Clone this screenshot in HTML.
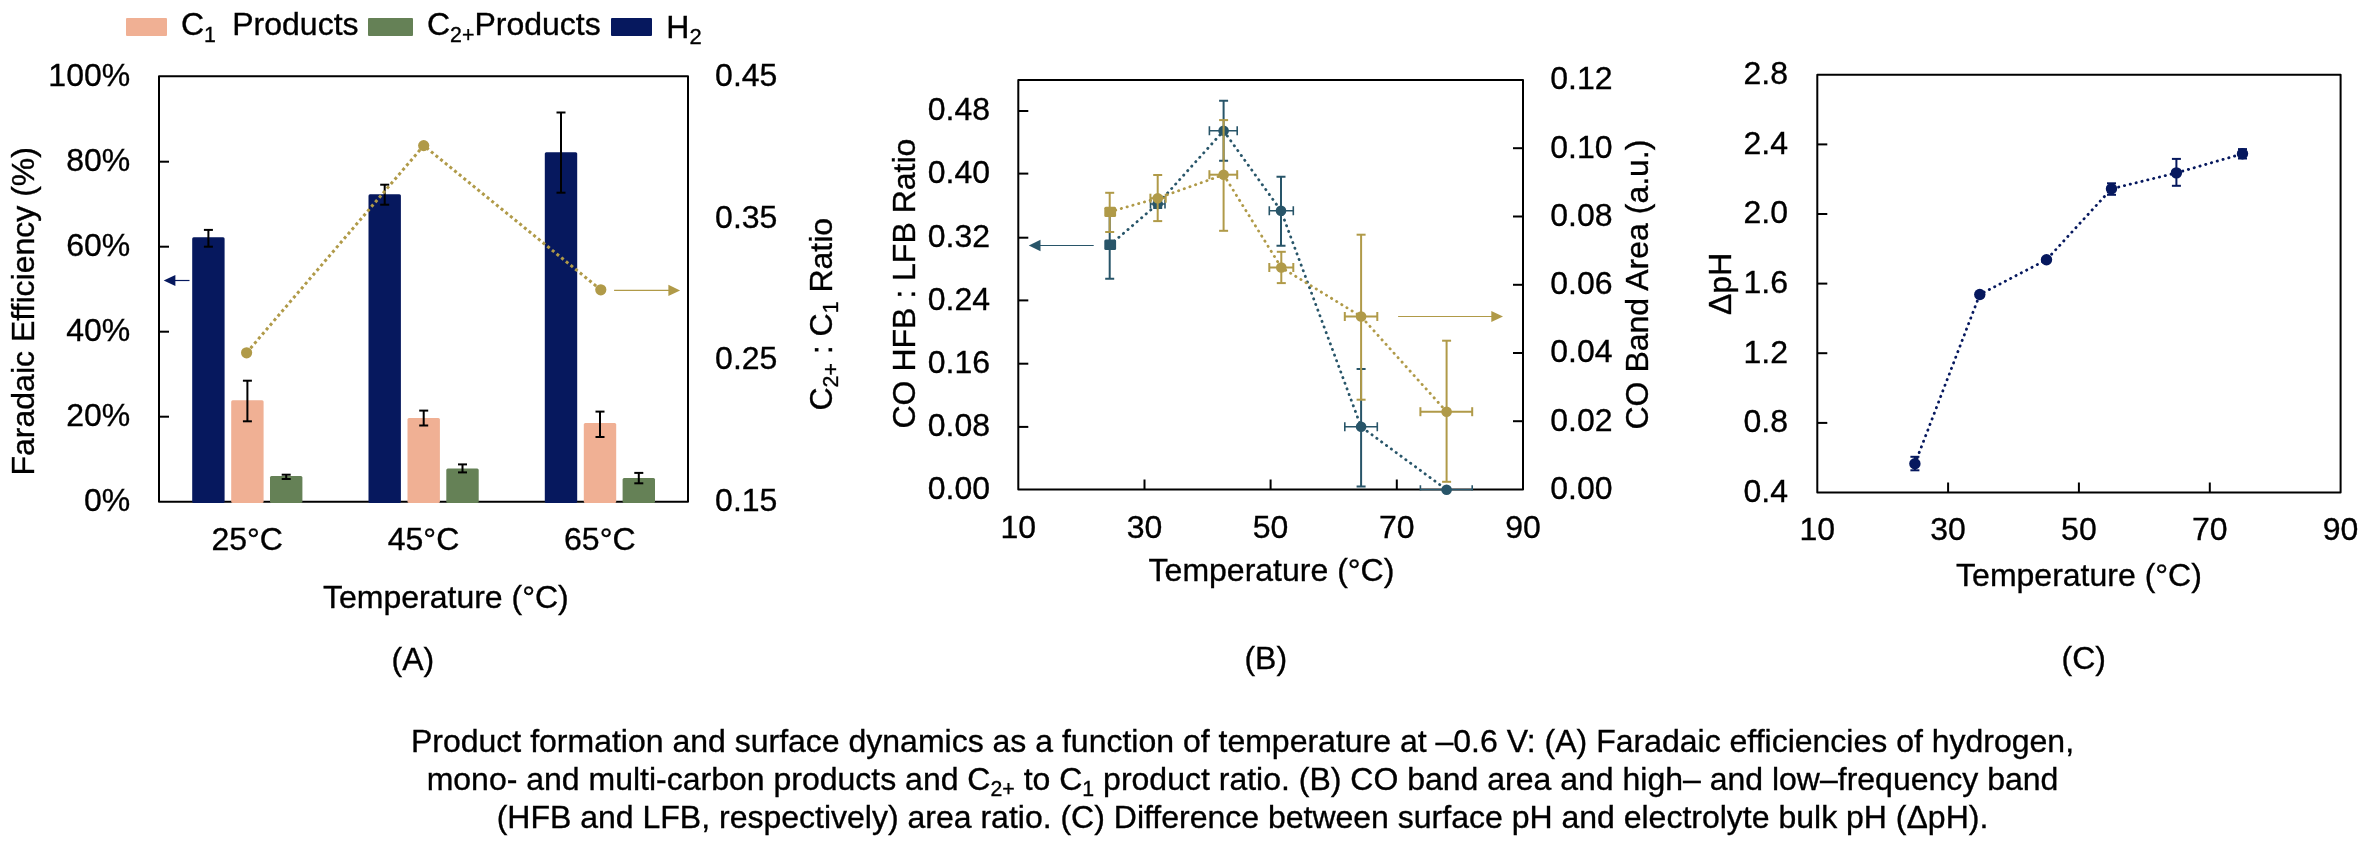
<!DOCTYPE html>
<html><head><meta charset="utf-8"><title>Figure</title>
<style>
html,body{margin:0;padding:0;background:#fff;}
body{width:2364px;height:842px;overflow:hidden;}
svg{display:block;font-family:"Liberation Sans",Arial,sans-serif;fill:#000;will-change:transform;}
text{stroke:#000;stroke-width:0.35px;}
</style></head>
<body>
<svg width="2364" height="842" viewBox="0 0 2364 842">
<rect width="2364" height="842" fill="#fff"/>
<rect x="126.0" y="18.0" width="41.0" height="18.0" fill="#f0b094" rx="1"/>
<text x="181" y="35.4" font-size="32">C<tspan font-size="21.3" dy="6.5">1</tspan><tspan dy="-6.5" dx="-1.5" xml:space="preserve">  Products</tspan></text>
<rect x="368.0" y="18.0" width="45.0" height="18.0" fill="#658156" rx="1"/>
<text x="427" y="35.2" font-size="32">C<tspan font-size="21.3" dy="6.5">2+</tspan><tspan dy="-6.5">Products</tspan></text>
<rect x="611.0" y="18.0" width="41.0" height="18.0" fill="#06185e" rx="1"/>
<text x="666.3" y="37.6" font-size="32">H<tspan font-size="22" dy="6">2</tspan></text>
<rect x="159" y="76.2" width="529" height="425.5" fill="none" stroke="#000" stroke-width="2" stroke-linejoin="round"/>
<rect x="192.2" y="237.3" width="32.4" height="265.7" fill="#06185e" rx="1.5"/>
<rect x="231.2" y="400.3" width="32.4" height="102.7" fill="#f0b094" rx="1.5"/>
<rect x="270.0" y="476.1" width="32.4" height="26.9" fill="#658156" rx="1.5"/>
<rect x="368.5" y="194.2" width="32.4" height="308.8" fill="#06185e" rx="1.5"/>
<rect x="407.5" y="418.0" width="32.4" height="85.0" fill="#f0b094" rx="1.5"/>
<rect x="446.3" y="468.4" width="32.4" height="34.6" fill="#658156" rx="1.5"/>
<rect x="544.8" y="152.3" width="32.4" height="350.7" fill="#06185e" rx="1.5"/>
<rect x="583.8" y="423.0" width="32.4" height="80.0" fill="#f0b094" rx="1.5"/>
<rect x="622.6" y="477.9" width="32.4" height="25.1" fill="#658156" rx="1.5"/>
<line x1="208.4" y1="229.9" x2="208.4" y2="246.7" stroke="#000" stroke-width="2" />
<line x1="203.9" y1="229.9" x2="212.9" y2="229.9" stroke="#000" stroke-width="2" />
<line x1="203.9" y1="246.7" x2="212.9" y2="246.7" stroke="#000" stroke-width="2" />
<line x1="247.4" y1="380.7" x2="247.4" y2="421.3" stroke="#000" stroke-width="2" />
<line x1="242.9" y1="380.7" x2="251.9" y2="380.7" stroke="#000" stroke-width="2" />
<line x1="242.9" y1="421.3" x2="251.9" y2="421.3" stroke="#000" stroke-width="2" />
<line x1="286.2" y1="474.7" x2="286.2" y2="479.0" stroke="#000" stroke-width="2" />
<line x1="281.7" y1="474.7" x2="290.7" y2="474.7" stroke="#000" stroke-width="2" />
<line x1="281.7" y1="479.0" x2="290.7" y2="479.0" stroke="#000" stroke-width="2" />
<line x1="384.7" y1="184.7" x2="384.7" y2="204.7" stroke="#000" stroke-width="2" />
<line x1="380.2" y1="184.7" x2="389.2" y2="184.7" stroke="#000" stroke-width="2" />
<line x1="380.2" y1="204.7" x2="389.2" y2="204.7" stroke="#000" stroke-width="2" />
<line x1="423.7" y1="410.6" x2="423.7" y2="425.5" stroke="#000" stroke-width="2" />
<line x1="419.2" y1="410.6" x2="428.2" y2="410.6" stroke="#000" stroke-width="2" />
<line x1="419.2" y1="425.5" x2="428.2" y2="425.5" stroke="#000" stroke-width="2" />
<line x1="462.5" y1="464.4" x2="462.5" y2="472.4" stroke="#000" stroke-width="2" />
<line x1="458.0" y1="464.4" x2="467.0" y2="464.4" stroke="#000" stroke-width="2" />
<line x1="458.0" y1="472.4" x2="467.0" y2="472.4" stroke="#000" stroke-width="2" />
<line x1="561.0" y1="112.5" x2="561.0" y2="192.7" stroke="#000" stroke-width="2" />
<line x1="556.5" y1="112.5" x2="565.5" y2="112.5" stroke="#000" stroke-width="2" />
<line x1="556.5" y1="192.7" x2="565.5" y2="192.7" stroke="#000" stroke-width="2" />
<line x1="600.0" y1="411.6" x2="600.0" y2="437.0" stroke="#000" stroke-width="2" />
<line x1="595.5" y1="411.6" x2="604.5" y2="411.6" stroke="#000" stroke-width="2" />
<line x1="595.5" y1="437.0" x2="604.5" y2="437.0" stroke="#000" stroke-width="2" />
<line x1="638.8" y1="472.9" x2="638.8" y2="483.3" stroke="#000" stroke-width="2" />
<line x1="634.3" y1="472.9" x2="643.3" y2="472.9" stroke="#000" stroke-width="2" />
<line x1="634.3" y1="483.3" x2="643.3" y2="483.3" stroke="#000" stroke-width="2" />
<polyline points="246.6,352.8 423.7,145.6 600.8,289.8" fill="none" stroke="#b09a48" stroke-width="3" stroke-dasharray="3 3" stroke-linecap="butt"/>
<circle cx="246.6" cy="352.8" r="5.6" fill="#b09a48"/>
<circle cx="423.7" cy="145.6" r="5.6" fill="#b09a48"/>
<circle cx="600.8" cy="289.8" r="5.6" fill="#b09a48"/>
<line x1="614.1" y1="290.4" x2="670.7" y2="290.4" stroke="#b09a48" stroke-width="1.2" />
<polygon points="680.1,290.4 668.4,284.8 668.4,296.0" fill="#b09a48"/>
<line x1="189.5" y1="280.5" x2="173.1" y2="280.5" stroke="#06185e" stroke-width="1.2" />
<polygon points="163.7,280.5 175.4,274.9 175.4,286.1" fill="#06185e"/>
<line x1="159.0" y1="416.7" x2="169.0" y2="416.7" stroke="#000" stroke-width="2" />
<line x1="159.0" y1="331.7" x2="169.0" y2="331.7" stroke="#000" stroke-width="2" />
<line x1="159.0" y1="246.7" x2="169.0" y2="246.7" stroke="#000" stroke-width="2" />
<line x1="159.0" y1="161.7" x2="169.0" y2="161.7" stroke="#000" stroke-width="2" />
<text x="130.2" y="511.0" text-anchor="end" font-size="32" >0%</text>
<text x="130.2" y="426.0" text-anchor="end" font-size="32" >20%</text>
<text x="130.2" y="341.0" text-anchor="end" font-size="32" >40%</text>
<text x="130.2" y="256.0" text-anchor="end" font-size="32" >60%</text>
<text x="130.2" y="171.0" text-anchor="end" font-size="32" >80%</text>
<text x="130.2" y="86.0" text-anchor="end" font-size="32" >100%</text>
<text x="715.1" y="511.0" text-anchor="start" font-size="32" >0.15</text>
<text x="715.1" y="369.3" text-anchor="start" font-size="32" >0.25</text>
<text x="715.1" y="227.7" text-anchor="start" font-size="32" >0.35</text>
<text x="715.1" y="86.0" text-anchor="start" font-size="32" >0.45</text>
<text x="247.2" y="550.4" text-anchor="middle" font-size="32" >25°C</text>
<text x="423.5" y="550.4" text-anchor="middle" font-size="32" >45°C</text>
<text x="599.8" y="550.4" text-anchor="middle" font-size="32" >65°C</text>
<text x="323.0" y="608.0" text-anchor="start" font-size="32" >Temperature (°C)</text>
<text x="391.6" y="669.8" text-anchor="start" font-size="32" >(A)</text>
<text transform="translate(34.2,475.5) rotate(-90)" font-size="32" x="0" y="0">Faradaic Efficiency (%)</text>
<text transform="translate(831.7,410.5) rotate(-90)" font-size="32" x="0" y="0">C<tspan font-size="21.3" dy="6.5">2+</tspan><tspan dy="-6.5" xml:space="preserve"> : C</tspan><tspan font-size="21.3" dy="6.5">1</tspan><tspan dy="-6.5"> Ratio</tspan></text>
<rect x="1018.3" y="80.0" width="504.7" height="409.5" fill="none" stroke="#000" stroke-width="2" stroke-linejoin="round"/>
<text x="990.0" y="498.8" text-anchor="end" font-size="32" >0.00</text>
<line x1="1018.3" y1="426.9" x2="1028.3" y2="426.9" stroke="#000" stroke-width="2" />
<text x="990.0" y="436.2" text-anchor="end" font-size="32" >0.08</text>
<line x1="1018.3" y1="363.7" x2="1028.3" y2="363.7" stroke="#000" stroke-width="2" />
<text x="990.0" y="373.0" text-anchor="end" font-size="32" >0.16</text>
<line x1="1018.3" y1="300.4" x2="1028.3" y2="300.4" stroke="#000" stroke-width="2" />
<text x="990.0" y="309.7" text-anchor="end" font-size="32" >0.24</text>
<line x1="1018.3" y1="237.7" x2="1028.3" y2="237.7" stroke="#000" stroke-width="2" />
<text x="990.0" y="247.0" text-anchor="end" font-size="32" >0.32</text>
<line x1="1018.3" y1="173.6" x2="1028.3" y2="173.6" stroke="#000" stroke-width="2" />
<text x="990.0" y="182.9" text-anchor="end" font-size="32" >0.40</text>
<line x1="1018.3" y1="111.0" x2="1028.3" y2="111.0" stroke="#000" stroke-width="2" />
<text x="990.0" y="120.3" text-anchor="end" font-size="32" >0.48</text>
<text x="1550.3" y="498.8" text-anchor="start" font-size="32" >0.00</text>
<line x1="1523.0" y1="421.2" x2="1513.0" y2="421.2" stroke="#000" stroke-width="2" />
<text x="1550.3" y="430.6" text-anchor="start" font-size="32" >0.02</text>
<line x1="1523.0" y1="353.0" x2="1513.0" y2="353.0" stroke="#000" stroke-width="2" />
<text x="1550.3" y="362.3" text-anchor="start" font-size="32" >0.04</text>
<line x1="1523.0" y1="284.8" x2="1513.0" y2="284.8" stroke="#000" stroke-width="2" />
<text x="1550.3" y="294.1" text-anchor="start" font-size="32" >0.06</text>
<line x1="1523.0" y1="216.5" x2="1513.0" y2="216.5" stroke="#000" stroke-width="2" />
<text x="1550.3" y="225.8" text-anchor="start" font-size="32" >0.08</text>
<line x1="1523.0" y1="148.2" x2="1513.0" y2="148.2" stroke="#000" stroke-width="2" />
<text x="1550.3" y="157.6" text-anchor="start" font-size="32" >0.10</text>
<text x="1550.3" y="89.3" text-anchor="start" font-size="32" >0.12</text>
<text x="1018.3" y="537.5" text-anchor="middle" font-size="32" >10</text>
<line x1="1144.5" y1="489.5" x2="1144.5" y2="479.5" stroke="#000" stroke-width="2" />
<text x="1144.5" y="537.5" text-anchor="middle" font-size="32" >30</text>
<line x1="1270.6" y1="489.5" x2="1270.6" y2="479.5" stroke="#000" stroke-width="2" />
<text x="1270.6" y="537.5" text-anchor="middle" font-size="32" >50</text>
<line x1="1396.8" y1="489.5" x2="1396.8" y2="479.5" stroke="#000" stroke-width="2" />
<text x="1396.8" y="537.5" text-anchor="middle" font-size="32" >70</text>
<text x="1523.0" y="537.5" text-anchor="middle" font-size="32" >90</text>
<text x="1148.6" y="581.0" text-anchor="start" font-size="32" >Temperature (°C)</text>
<text x="1244.4" y="669.0" text-anchor="start" font-size="32" >(B)</text>
<text transform="translate(915.2,428.5) rotate(-90)" font-size="32">CO HFB : LFB Ratio</text>
<text transform="translate(1648.2,429.5) rotate(-90)" font-size="32">CO Band Area (a.u.)</text>
<polyline points="1109.7,245.2 1157.7,204.0 1223.6,130.8 1281.0,210.7 1361.1,426.8 1446.6,489.7" fill="none" stroke="#285569" stroke-width="2.8" stroke-dasharray="0.3 5.7" stroke-linecap="round"/>
<polyline points="1109.7,211.8 1157.7,198.2 1223.6,174.7 1281.3,267.5 1361.1,316.5 1446.6,411.7" fill="none" stroke="#b09a48" stroke-width="2.8" stroke-dasharray="0.3 5.7" stroke-linecap="round"/>
<clipPath id="clipB"><rect x="1019" y="81" width="503" height="409.4"/></clipPath><g clip-path="url(#clipB)">
<line x1="1109.7" y1="211.3" x2="1109.7" y2="278.7" stroke="#285569" stroke-width="2" />
<line x1="1105.2" y1="211.3" x2="1114.2" y2="211.3" stroke="#285569" stroke-width="2" />
<line x1="1105.2" y1="278.7" x2="1114.2" y2="278.7" stroke="#285569" stroke-width="2" />
<line x1="1157.7" y1="200.0" x2="1157.7" y2="208.0" stroke="#285569" stroke-width="2" />
<line x1="1153.2" y1="200.0" x2="1162.2" y2="200.0" stroke="#285569" stroke-width="2" />
<line x1="1153.2" y1="208.0" x2="1162.2" y2="208.0" stroke="#285569" stroke-width="2" />
<line x1="1150.5" y1="204.0" x2="1165.0" y2="204.0" stroke="#285569" stroke-width="1.6" />
<line x1="1150.5" y1="199.5" x2="1150.5" y2="208.5" stroke="#285569" stroke-width="1.6" />
<line x1="1165.0" y1="199.5" x2="1165.0" y2="208.5" stroke="#285569" stroke-width="1.6" />
<line x1="1223.6" y1="100.7" x2="1223.6" y2="160.7" stroke="#285569" stroke-width="2" />
<line x1="1219.1" y1="100.7" x2="1228.1" y2="100.7" stroke="#285569" stroke-width="2" />
<line x1="1219.1" y1="160.7" x2="1228.1" y2="160.7" stroke="#285569" stroke-width="2" />
<line x1="1209.4" y1="130.8" x2="1237.2" y2="130.8" stroke="#285569" stroke-width="1.6" />
<line x1="1209.4" y1="126.3" x2="1209.4" y2="135.3" stroke="#285569" stroke-width="1.6" />
<line x1="1237.2" y1="126.3" x2="1237.2" y2="135.3" stroke="#285569" stroke-width="1.6" />
<line x1="1281.0" y1="176.8" x2="1281.0" y2="245.8" stroke="#285569" stroke-width="2" />
<line x1="1276.5" y1="176.8" x2="1285.5" y2="176.8" stroke="#285569" stroke-width="2" />
<line x1="1276.5" y1="245.8" x2="1285.5" y2="245.8" stroke="#285569" stroke-width="2" />
<line x1="1269.3" y1="210.7" x2="1293.3" y2="210.7" stroke="#285569" stroke-width="1.6" />
<line x1="1269.3" y1="206.2" x2="1269.3" y2="215.2" stroke="#285569" stroke-width="1.6" />
<line x1="1293.3" y1="206.2" x2="1293.3" y2="215.2" stroke="#285569" stroke-width="1.6" />
<line x1="1361.1" y1="368.9" x2="1361.1" y2="486.6" stroke="#285569" stroke-width="2" />
<line x1="1356.6" y1="368.9" x2="1365.6" y2="368.9" stroke="#285569" stroke-width="2" />
<line x1="1356.6" y1="486.6" x2="1365.6" y2="486.6" stroke="#285569" stroke-width="2" />
<line x1="1344.8" y1="426.8" x2="1377.3" y2="426.8" stroke="#285569" stroke-width="1.6" />
<line x1="1344.8" y1="422.3" x2="1344.8" y2="431.3" stroke="#285569" stroke-width="1.6" />
<line x1="1377.3" y1="422.3" x2="1377.3" y2="431.3" stroke="#285569" stroke-width="1.6" />
<line x1="1420.4" y1="489.7" x2="1472.2" y2="489.7" stroke="#285569" stroke-width="1.6" />
<line x1="1420.4" y1="485.2" x2="1420.4" y2="494.2" stroke="#285569" stroke-width="1.6" />
<line x1="1472.2" y1="485.2" x2="1472.2" y2="494.2" stroke="#285569" stroke-width="1.6" />
</g>
<rect x="1104.3" y="239.6" width="11.8" height="10.4" rx="1.5" fill="#285569"/>
<circle cx="1157.7" cy="204.0" r="5.3" fill="#285569"/>
<circle cx="1223.6" cy="130.8" r="5.3" fill="#285569"/>
<circle cx="1281.0" cy="210.7" r="5.3" fill="#285569"/>
<circle cx="1361.1" cy="426.8" r="5.3" fill="#285569"/>
<circle cx="1446.6" cy="489.7" r="5.3" fill="#285569"/>
<line x1="1109.7" y1="192.8" x2="1109.7" y2="232.0" stroke="#b09a48" stroke-width="2" />
<line x1="1105.2" y1="192.8" x2="1114.2" y2="192.8" stroke="#b09a48" stroke-width="2" />
<line x1="1105.2" y1="232.0" x2="1114.2" y2="232.0" stroke="#b09a48" stroke-width="2" />
<line x1="1157.7" y1="175.0" x2="1157.7" y2="221.1" stroke="#b09a48" stroke-width="2" />
<line x1="1153.2" y1="175.0" x2="1162.2" y2="175.0" stroke="#b09a48" stroke-width="2" />
<line x1="1153.2" y1="221.1" x2="1162.2" y2="221.1" stroke="#b09a48" stroke-width="2" />
<line x1="1150.4" y1="198.2" x2="1165.7" y2="198.2" stroke="#b09a48" stroke-width="2" />
<line x1="1150.4" y1="193.7" x2="1150.4" y2="202.7" stroke="#b09a48" stroke-width="2" />
<line x1="1165.7" y1="193.7" x2="1165.7" y2="202.7" stroke="#b09a48" stroke-width="2" />
<line x1="1223.6" y1="120.1" x2="1223.6" y2="230.8" stroke="#b09a48" stroke-width="2" />
<line x1="1219.1" y1="120.1" x2="1228.1" y2="120.1" stroke="#b09a48" stroke-width="2" />
<line x1="1219.1" y1="230.8" x2="1228.1" y2="230.8" stroke="#b09a48" stroke-width="2" />
<line x1="1209.4" y1="174.7" x2="1237.2" y2="174.7" stroke="#b09a48" stroke-width="2" />
<line x1="1209.4" y1="170.2" x2="1209.4" y2="179.2" stroke="#b09a48" stroke-width="2" />
<line x1="1237.2" y1="170.2" x2="1237.2" y2="179.2" stroke="#b09a48" stroke-width="2" />
<line x1="1281.3" y1="251.8" x2="1281.3" y2="283.1" stroke="#b09a48" stroke-width="2" />
<line x1="1276.8" y1="251.8" x2="1285.8" y2="251.8" stroke="#b09a48" stroke-width="2" />
<line x1="1276.8" y1="283.1" x2="1285.8" y2="283.1" stroke="#b09a48" stroke-width="2" />
<line x1="1269.3" y1="267.5" x2="1293.3" y2="267.5" stroke="#b09a48" stroke-width="2" />
<line x1="1269.3" y1="263.0" x2="1269.3" y2="272.0" stroke="#b09a48" stroke-width="2" />
<line x1="1293.3" y1="263.0" x2="1293.3" y2="272.0" stroke="#b09a48" stroke-width="2" />
<line x1="1361.1" y1="234.7" x2="1361.1" y2="399.7" stroke="#b09a48" stroke-width="2" />
<line x1="1356.6" y1="234.7" x2="1365.6" y2="234.7" stroke="#b09a48" stroke-width="2" />
<line x1="1356.6" y1="399.7" x2="1365.6" y2="399.7" stroke="#b09a48" stroke-width="2" />
<line x1="1344.8" y1="316.5" x2="1377.3" y2="316.5" stroke="#b09a48" stroke-width="2" />
<line x1="1344.8" y1="312.0" x2="1344.8" y2="321.0" stroke="#b09a48" stroke-width="2" />
<line x1="1377.3" y1="312.0" x2="1377.3" y2="321.0" stroke="#b09a48" stroke-width="2" />
<line x1="1446.6" y1="340.7" x2="1446.6" y2="481.8" stroke="#b09a48" stroke-width="2" />
<line x1="1442.1" y1="340.7" x2="1451.1" y2="340.7" stroke="#b09a48" stroke-width="2" />
<line x1="1442.1" y1="481.8" x2="1451.1" y2="481.8" stroke="#b09a48" stroke-width="2" />
<line x1="1420.4" y1="411.7" x2="1472.2" y2="411.7" stroke="#b09a48" stroke-width="2" />
<line x1="1420.4" y1="407.2" x2="1420.4" y2="416.2" stroke="#b09a48" stroke-width="2" />
<line x1="1472.2" y1="407.2" x2="1472.2" y2="416.2" stroke="#b09a48" stroke-width="2" />
<rect x="1104.3" y="206.7" width="11.8" height="10.2" rx="1.5" fill="#b09a48"/>
<circle cx="1157.7" cy="198.2" r="5.3" fill="#b09a48"/>
<circle cx="1223.6" cy="174.7" r="5.3" fill="#b09a48"/>
<circle cx="1281.3" cy="267.5" r="5.3" fill="#b09a48"/>
<circle cx="1361.1" cy="316.5" r="5.3" fill="#b09a48"/>
<circle cx="1446.6" cy="411.7" r="5.3" fill="#b09a48"/>
<line x1="1093.7" y1="245.5" x2="1038.2" y2="245.5" stroke="#285569" stroke-width="1.2" />
<polygon points="1028.8,245.5 1040.5,239.8 1040.5,251.2" fill="#285569"/>
<line x1="1398.1" y1="316.5" x2="1493.6" y2="316.5" stroke="#b09a48" stroke-width="1.2" />
<polygon points="1503.0,316.5 1491.3,310.9 1491.3,322.1" fill="#b09a48"/>
<rect x="1817.3" y="74.7" width="523.3" height="417.8" fill="none" stroke="#000" stroke-width="2" stroke-linejoin="round"/>
<text x="1788.0" y="501.8" text-anchor="end" font-size="32" >0.4</text>
<line x1="1817.3" y1="422.9" x2="1827.3" y2="422.9" stroke="#000" stroke-width="2" />
<text x="1788.0" y="432.2" text-anchor="end" font-size="32" >0.8</text>
<line x1="1817.3" y1="353.2" x2="1827.3" y2="353.2" stroke="#000" stroke-width="2" />
<text x="1788.0" y="362.5" text-anchor="end" font-size="32" >1.2</text>
<line x1="1817.3" y1="283.6" x2="1827.3" y2="283.6" stroke="#000" stroke-width="2" />
<text x="1788.0" y="292.9" text-anchor="end" font-size="32" >1.6</text>
<line x1="1817.3" y1="214.0" x2="1827.3" y2="214.0" stroke="#000" stroke-width="2" />
<text x="1788.0" y="223.3" text-anchor="end" font-size="32" >2.0</text>
<line x1="1817.3" y1="144.4" x2="1827.3" y2="144.4" stroke="#000" stroke-width="2" />
<text x="1788.0" y="153.7" text-anchor="end" font-size="32" >2.4</text>
<text x="1788.0" y="84.0" text-anchor="end" font-size="32" >2.8</text>
<text x="1817.3" y="540.3" text-anchor="middle" font-size="32" >10</text>
<line x1="1948.1" y1="492.5" x2="1948.1" y2="482.5" stroke="#000" stroke-width="2" />
<text x="1948.1" y="540.3" text-anchor="middle" font-size="32" >30</text>
<line x1="2078.9" y1="492.5" x2="2078.9" y2="482.5" stroke="#000" stroke-width="2" />
<text x="2078.9" y="540.3" text-anchor="middle" font-size="32" >50</text>
<line x1="2209.8" y1="492.5" x2="2209.8" y2="482.5" stroke="#000" stroke-width="2" />
<text x="2209.8" y="540.3" text-anchor="middle" font-size="32" >70</text>
<text x="2340.6" y="540.3" text-anchor="middle" font-size="32" >90</text>
<text x="1956.1" y="586.0" text-anchor="start" font-size="32" >Temperature (°C)</text>
<text x="2061.6" y="669.0" text-anchor="start" font-size="32" >(C)</text>
<text transform="translate(1731.3,315) rotate(-90)" font-size="32">ΔpH</text>
<polyline points="1914.9,463.8 1979.8,294.5 2046.5,259.8 2111.5,188.8 2176.4,172.9 2242.5,153.8" fill="none" stroke="#06185e" stroke-width="2.8" stroke-dasharray="0.3 5.7" stroke-linecap="round"/>
<line x1="1914.9" y1="456.8" x2="1914.9" y2="470.3" stroke="#06185e" stroke-width="2" />
<line x1="1910.4" y1="456.8" x2="1919.4" y2="456.8" stroke="#06185e" stroke-width="2" />
<line x1="1910.4" y1="470.3" x2="1919.4" y2="470.3" stroke="#06185e" stroke-width="2" />
<circle cx="1914.9" cy="463.8" r="5.7" fill="#06185e"/>
<circle cx="1979.8" cy="294.5" r="5.7" fill="#06185e"/>
<circle cx="2046.5" cy="259.8" r="5.7" fill="#06185e"/>
<line x1="2111.5" y1="183.3" x2="2111.5" y2="194.8" stroke="#06185e" stroke-width="2" />
<line x1="2107.0" y1="183.3" x2="2116.0" y2="183.3" stroke="#06185e" stroke-width="2" />
<line x1="2107.0" y1="194.8" x2="2116.0" y2="194.8" stroke="#06185e" stroke-width="2" />
<circle cx="2111.5" cy="188.8" r="5.7" fill="#06185e"/>
<line x1="2176.4" y1="158.9" x2="2176.4" y2="185.8" stroke="#06185e" stroke-width="2" />
<line x1="2171.9" y1="158.9" x2="2180.9" y2="158.9" stroke="#06185e" stroke-width="2" />
<line x1="2171.9" y1="185.8" x2="2180.9" y2="185.8" stroke="#06185e" stroke-width="2" />
<circle cx="2176.4" cy="172.9" r="5.7" fill="#06185e"/>
<line x1="2242.5" y1="149.1" x2="2242.5" y2="158.5" stroke="#06185e" stroke-width="2" />
<line x1="2238.0" y1="149.1" x2="2247.0" y2="149.1" stroke="#06185e" stroke-width="2" />
<line x1="2238.0" y1="158.5" x2="2247.0" y2="158.5" stroke="#06185e" stroke-width="2" />
<circle cx="2242.5" cy="153.8" r="5.7" fill="#06185e"/>
<text x="1242.5" y="751.9" text-anchor="middle" font-size="32" >Product formation and surface dynamics as a function of temperature at –0.6 V: (A) Faradaic efficiencies of hydrogen,</text>
<text x="1242.5" y="789.9" text-anchor="middle" font-size="32">mono- and multi-carbon products and C<tspan font-size="21.3" dy="6.5">2+</tspan><tspan dy="-6.5"> to C</tspan><tspan font-size="21.3" dy="6.5">1</tspan><tspan dy="-6.5"> product ratio. (B) CO band area and high– and low–frequency band</tspan></text>
<text x="1242.5" y="827.9" text-anchor="middle" font-size="32" >(HFB and LFB, respectively) area ratio. (C) Difference between surface pH and electrolyte bulk pH (ΔpH).</text>
</svg>
</body></html>
